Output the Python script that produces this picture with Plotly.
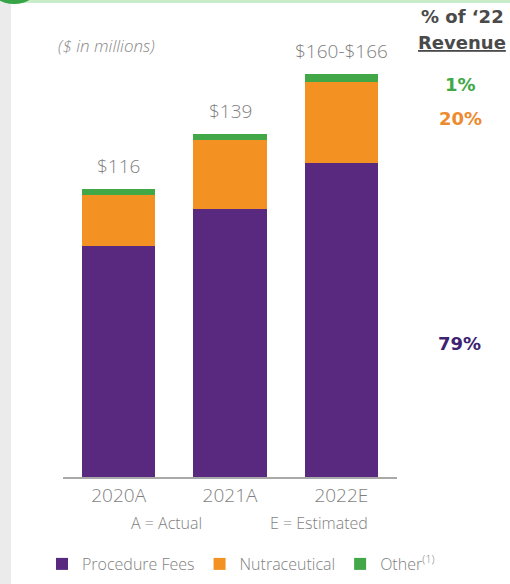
import plotly.graph_objects as go

categories = ["2020A", "2021A", "2022E"]
procedure_fees = [93.5, 108.5, 127.0]
nutraceutical = [20.5, 28.0, 33.0]
other = [2.5, 2.5, 3.0]
total_labels = ["$116", "$139", "$160-$166"]
share_labels = ["1%", "20%", "79%"]

PURPLE = "#58297f"
ORANGE = "#f39223"
GREEN = "#42a847"
GRAY = "#7f7f7f"
FONT = "Open Sans"
BOLD = "DejaVu Sans"

W, H = 510, 584
L, R, T, B = 63, 113, 57, 107
YMAX = 170.0
pw = W - L - R
ph = H - T - B

def px(x):
    return (x - L) / pw

def py(y):
    return (H - B - y) / ph

fig = go.Figure()
fig.add_trace(go.Bar(x=categories, y=procedure_fees, name="Procedure Fees",
                     marker=dict(color=PURPLE, line=dict(width=0))))
fig.add_trace(go.Bar(x=categories, y=nutraceutical, name="Nutraceutical",
                     marker=dict(color=ORANGE, line=dict(width=0))))
fig.add_trace(go.Bar(x=categories, y=other, name="Other<sup>(1)</sup>",
                     marker=dict(color=GREEN, line=dict(width=0))))

totals = [a + b + c for a, b, c in zip(procedure_fees, nutraceutical, other)]
annotations = []
for cat, tot, lab in zip(categories, totals, total_labels):
    annotations.append(dict(x=cat, y=tot, text=lab, showarrow=False, xanchor="center",
                            yanchor="bottom", yshift=8,
                            font=dict(family=FONT, size=19, color=GRAY, weight=300)))

def note(x, y, text, size, color, weight=400, family=FONT):
    return dict(xref="paper", yref="paper", x=px(x), y=py(y), text=text, showarrow=False,
                xanchor="center", yanchor="middle",
                font=dict(family=family, size=size, color=color, weight=weight))

annotations += [
    note(106, 45, "<i>($ in millions)</i>", 17, "#8a8a8a", 300),
    note(462, 17, "% of ‘22", 18, "#4a4a4a", 700, BOLD),
    note(462, 43, "<u>Revenue</u>", 18, "#4a4a4a", 700, BOLD),
    note(460, 84, share_labels[0], 18, GREEN, 700, BOLD),
    note(460, 118, share_labels[1], 18, "#ee8a2e", 700, BOLD),
    note(459, 343, share_labels[2], 18, "#3d2370", 700, BOLD),
    note(166, 523, "A = Actual", 16, GRAY, 300),
    note(319, 523, "E = Estimated", 16, GRAY, 300),
]

shapes = [
    dict(type="rect", xref="paper", yref="paper", x0=px(0), x1=px(11), y0=py(H), y1=py(0),
         fillcolor="#ebebeb", line=dict(width=0), layer="below"),
    dict(type="rect", xref="paper", yref="paper", x0=px(11), x1=px(W), y0=py(3), y1=py(0),
         fillcolor="#c9ecc9", line=dict(width=0), layer="below"),
    dict(type="circle", xref="paper", yref="paper", x0=px(-10), x1=px(38), y0=py(4), y1=py(-30),
         fillcolor="#36a447", line=dict(width=0), layer="above"),
]

fig.update_layout(
    barmode="stack",
    bargap=0.34,
    width=W, height=H,
    margin=dict(l=L, r=R, t=T, b=B, pad=0, autoexpand=False),
    plot_bgcolor="white", paper_bgcolor="white",
    font=dict(family=FONT, color=GRAY),
    xaxis=dict(range=[-0.5, 2.5], showgrid=False, zeroline=False,
               showline=True, linecolor="#a9a9a9", linewidth=2, ticks="",
               tickfont=dict(family=FONT, size=19, color=GRAY, weight=300)),
    yaxis=dict(range=[0, YMAX], visible=False),
    legend=dict(orientation="h", x=px(42), y=py(564), xanchor="left", yanchor="middle",
                font=dict(family=FONT, size=16, color=GRAY, weight=300), traceorder="normal",
                itemwidth=30, bgcolor="rgba(0,0,0,0)"),
    annotations=annotations,
    shapes=shapes,
)

fig.write_html("out.html", config={"displayModeBar": False},
               post_script="document.body.style.margin='0';document.body.style.overflow='hidden';")
